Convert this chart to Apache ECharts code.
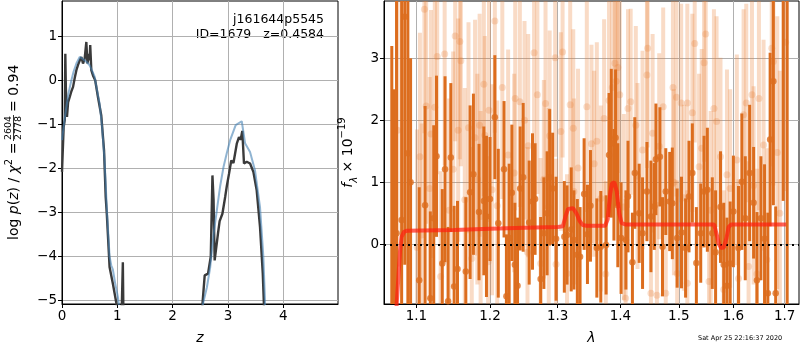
<!DOCTYPE html>
<html>
<head>
<meta charset="utf-8">
<script src="https://cdn.jsdelivr.net/npm/echarts@6/dist/echarts.min.js"></script>
<style>
html, body { margin: 0; padding: 0; background: #fff; }
#main { width: 800px; height: 350px; }
</style>
</head>
<body>
<div id="main"></div>
<script>
// left panel: log p(z), noisy (dark) and smoothed (blue)
var pzDark = [
    [0, -2.08], [0.03, -1.06], [0.05, -0.9], [0.06, 0.6], [0.07, -0.2], [0.09, -0.83], [0.11, -0.5],
    [0.14, -0.38], [0.17, -0.25], [0.2, -0.15], [0.23, 0.05], [0.26, 0.23], [0.29, 0.35], [0.32, 0.45],
    [0.35, 0.53], [0.38, 0.38], [0.41, 0.49], [0.43, 0.45], [0.44, 0.87], [0.46, 0.38], [0.48, 0.55],
    [0.49, 0.6], [0.5, 0.45], [0.51, 0.8], [0.53, 0.23], [0.56, 0.11], [0.6, 0], [0.65, -0.38],
    [0.71, -0.8], [0.76, -1.59], [0.79, -2.65], [0.81, -3.03], [0.86, -4.24], [0.92, -4.62],
    [0.98, -5.04], [1.02, -5.3], [1.06, -5.6], [1.08, -5.2], [1.1, -4.13], [1.11, -5.3], [1.12, -6],
    [2.5, -6], [2.54, -5.07], [2.58, -4.43], [2.64, -4.39], [2.69, -4.0], [2.72, -2.16], [2.74, -2.7],
    [2.76, -4.09], [2.82, -3.48], [2.85, -3.2], [2.9, -3.03], [2.95, -2.65], [2.98, -2.4], [3.02, -2.12],
    [3.06, -1.82], [3.1, -1.88], [3.16, -1.44], [3.2, -1.29], [3.23, -1.35], [3.26, -1.15], [3.29, -1.89],
    [3.34, -1.85], [3.4, -1.89], [3.46, -2.08], [3.52, -2.5], [3.58, -3.33], [3.63, -4.39], [3.65, -5.07],
    [3.67, -6]
];
var pzSmooth = [
    [0, -1.36], [0.04, -0.95], [0.08, -0.6], [0.12, -0.28], [0.17, 0], [0.21, 0.2], [0.26, 0.38],
    [0.32, 0.53], [0.38, 0.48], [0.44, 0.42], [0.5, 0.34], [0.55, 0.2], [0.59, 0.08], [0.63, -0.2],
    [0.68, -0.53], [0.72, -1.0], [0.77, -1.82], [0.81, -2.9], [0.86, -4.0], [0.89, -4.2], [0.92, -4.3],
    [0.96, -4.6], [1.01, -4.92], [1.04, -5.2], [1.08, -6.5],
    [2.5, -6.5], [2.55, -5.07], [2.62, -4.7], [2.68, -4.24], [2.74, -3.5], [2.8, -2.95], [2.86, -2.4],
    [2.92, -1.97], [2.98, -1.65], [3.04, -1.36], [3.14, -1.02], [3.25, -0.93], [3.31, -1.43],
    [3.4, -1.63], [3.49, -2.05], [3.58, -2.88], [3.64, -4.0], [3.67, -5.0], [3.69, -6.5]
];
var zTicks = [0, 1, 2, 3, 4];
var pzTicks = [-5, -4, -3, -2, -1, 0, 1];

// right panel: spectrum [lambda, flux, error]
var specDark = [
    [1.0685, -1.2, 4.4], [1.0715, -1.5, 4.0], [1.0745, 0.18, 4.5], [1.081, 0.39, 4.2], [1.085, 3.67, 4.0],
    [1.089, 1.47, 3.0], [1.0925, 1.0, 2.0], [1.1037, -0.58, 1.5], [1.1114, 0.63, 1.6], [1.1183, -0.87, 1.4],
    [1.1228, 0.42, 1.5], [1.1265, 1.42, 1.3], [1.1342, -0.31, 1.2], [1.1379, 1.21, 1.5], [1.142, -0.92, 1.2],
    [1.1457, 1.40, 1.2], [1.1502, -0.68, 1.3], [1.1548, -0.40, 1.1], [1.1662, -0.44, 1.2], [1.1721, 0.84, 1.4],
    [1.1767, 1.13, 1.3], [1.1845, 0.52, 1.1], [1.1913, 0.70, 1.2], [1.195, 0.45, 1.3], [1.2, 0.73, 1.0],
    [1.2069, 2.05, 1.0], [1.2118, 0.34, 1.2], [1.2201, 1.21, 1.1], [1.2235, -0.84, 1.0], [1.2275, 0.10, 1.2],
    [1.2314, 0.83, 1.1], [1.2358, -0.33, 1.0], [1.2397, -0.67, 1.1], [1.2436, 0.90, 1.0], [1.248, 1.08, 1.2],
    [1.2569, 0.35, 1.0], [1.2618, 0.69, 1.1], [1.2657, 0.73, 0.9], [1.274, -0.56, 1.0], [1.2789, 0.18, 0.9],
    [1.2838, 0.50, 1.0], [1.2877, 1.08, 1.1], [1.2922, 0.90, 0.9], [1.2975, 0.09, 1.0], [1.3102, 0.12, 0.9],
    [1.3144, 0.15, 0.8], [1.3209, 0.24, 1.0], [1.3251, 0.07, 0.8], [1.3305, -0.17, 0.9], [1.3348, -0.2, 0.8],
    [1.3412, 0.81, 0.9], [1.3465, 0.16, 0.8], [1.3513, 0.62, 0.9], [1.3615, -0.06, 0.8], [1.3679, -0.04, 0.9],
    [1.3765, -0.01, 0.8], [1.3813, 1.44, 1.0], [1.385, 1.63, 1.2], [1.3893, 0.96, 0.9], [1.392, 1.72, 1.1],
    [1.3957, 0.63, 1.0], [1.4011, 0.10, 0.9], [1.4091, 0.07, 0.8], [1.4126, 0.77, 0.9], [1.42, -0.29, 0.8],
    [1.424, 1.15, 0.9], [1.4314, 0.50, 0.8], [1.4371, 0.18, 0.9], [1.4446, 0.85, 0.8], [1.4514, 0.45, 0.9],
    [1.4571, 0.61, 0.7], [1.46, 1.37, 0.9], [1.4669, 1.41, 0.8], [1.4714, -0.04, 0.8], [1.4771, 0.85, 0.7],
    [1.484, 0.69, 0.8], [1.4886, 0.66, 0.9], [1.4971, 0.10, 0.8], [1.5048, 0.19, 0.9], [1.5121, -0.06, 0.8],
    [1.5182, 0.77, 0.9], [1.5242, 1.15, 0.8], [1.5315, -0.30, 0.9], [1.5394, 0.18, 0.8], [1.5455, 0.85, 0.9],
    [1.5515, 0.88, 1.0], [1.5606, 0.18, 0.9], [1.5667, -0.13, 1.0], [1.5758, 0.60, 0.9], [1.5818, -0.33, 1.0],
    [1.5879, -0.67, 1.1], [1.5939, -0.31, 1.0], [1.6, 0.53, 0.9], [1.6097, -0.06, 1.0], [1.6161, 1.01, 1.1],
    [1.6226, 0.42, 1.0], [1.631, 1.15, 1.1], [1.6387, 0.67, 0.9], [1.6452, -0.58, 1.1], [1.6529, 0.42, 1.0],
    [1.66, 0.09, 1.2], [1.6665, -0.79, 1.3], [1.671, 1.69, 1.4], [1.6774, 2.63, 2.0], [1.682, -0.79, 1.4],
    [1.697, 4.5, 3.8], [1.705, 4.8, 6.0]
];
var specLight = [
    [1.0758, 1.84, 2.2], [1.1009, -0.05, 1.9], [1.1046, 1.41, 2.0], [1.1068, 0.15, 1.8], [1.1105, 3.79, 2.0],
    [1.1128, 2.23, 1.9], [1.1174, 0.9, 1.8], [1.1192, 1.78, 2.0], [1.1242, 2.21, 1.8], [1.1274, 3.03, 1.9],
    [1.132, -0.52, 1.7], [1.1374, 3.07, 1.8], [1.1434, 0.55, 1.8], [1.1489, 1.21, 1.9], [1.1516, 3.36, 1.7],
    [1.1557, 1.84, 1.8], [1.158, 3.27, 1.9], [1.1594, 2.96, 1.7], [1.1648, 0.72, 1.8], [1.1699, 1.88, 1.7],
    [1.1744, -0.23, 1.8], [1.179, 1.72, 1.9], [1.1822, 1.05, 1.7], [1.1854, 1.92, 1.8], [1.1868, 0.45, 1.7],
    [1.1913, 2.58, 1.8], [1.1927, 1.76, 1.6], [1.1973, -0.28, 1.7], [1.1986, 2.16, 1.8], [1.2029, 0.88, 1.7],
    [1.2069, 3.60, 1.8], [1.2103, 0.62, 1.7], [1.2176, 2.53, 1.8], [1.226, 1.44, 1.7], [1.2348, 1.15, 1.6],
    [1.2363, 2.35, 1.8], [1.2431, 2.30, 1.7], [1.25, 2.0, 1.6], [1.2544, -0.13, 1.7], [1.2554, 1.59, 1.8],
    [1.2642, 3.09, 1.7], [1.2691, 2.41, 1.6], [1.274, -0.31, 1.7], [1.2789, 1.05, 1.6], [1.2814, 2.27, 1.7],
    [1.2863, 0.6, 1.6], [1.2877, 1.75, 1.7], [1.2961, 3.01, 1.6], [1.2975, -0.32, 1.7], [1.3048, 1.82, 1.6],
    [1.3075, 3.10, 1.7], [1.3144, -0.47, 1.6], [1.3193, 2.25, 1.7], [1.3241, 1.87, 1.6], [1.3251, 0.85, 1.5],
    [1.3316, 1.23, 1.6], [1.3455, 2.22, 1.7], [1.3529, 1.62, 1.6], [1.3572, 1.3, 1.5], [1.3615, 1.66, 1.6],
    [1.3679, 0.74, 1.5], [1.3733, 2.03, 1.6], [1.376, -0.48, 1.5], [1.3813, 2.32, 1.7], [1.3866, 2.53, 1.8],
    [1.3909, 2.92, 1.7], [1.393, 2.63, 1.8], [1.3957, 2.85, 1.7], [1.3989, 2.41, 1.6], [1.4057, 0.6, 1.5],
    [1.4086, -0.87, 1.6], [1.4126, 2.19, 1.6], [1.4171, 2.30, 1.5], [1.4257, 1.92, 1.6], [1.4286, 1.1, 1.5],
    [1.4371, 1.52, 1.6], [1.4446, 2.73, 1.5], [1.4457, 3.16, 1.6], [1.4514, -0.79, 1.5], [1.4543, 1.79, 1.6],
    [1.4617, -0.82, 1.5], [1.4657, 1.58, 1.5], [1.4726, 2.22, 1.6], [1.4771, -0.79, 1.5], [1.4897, 2.53, 1.6],
    [1.4914, 1.0, 1.5], [1.496, 2.37, 1.6], [1.4971, -0.47, 1.5], [1.5042, 2.28, 1.6], [1.509, 0.75, 1.5],
    [1.5152, 2.28, 1.6], [1.5152, -0.63, 1.5], [1.5242, 2.12, 1.6], [1.5285, 3.24, 1.6], [1.5364, 1.25, 1.5],
    [1.5412, 1.55, 1.6], [1.5455, 2.93, 1.6], [1.5485, 3.39, 1.7], [1.5545, -0.6, 1.5], [1.5576, 0.55, 1.6],
    [1.5636, 2.19, 1.6], [1.5685, 1.98, 1.7], [1.5758, 1.41, 1.6], [1.5818, -0.73, 1.6], [1.5879, 1.12, 1.7],
    [1.5939, 0.9, 1.6], [1.6065, 1.36, 1.7], [1.6097, -0.55, 1.6], [1.6194, 2.09, 1.7], [1.6245, 2.28, 1.6],
    [1.629, -0.36, 1.7], [1.6355, 2.41, 1.7], [1.6387, 0.95, 1.6], [1.6452, -0.48, 1.7], [1.649, 2.35, 1.8],
    [1.6581, 1.60, 1.7], [1.6645, -0.25, 1.8], [1.6742, 3.16, 1.9], [1.6774, 2.95, 2.0], [1.6852, 1.48, 2.2],
    [1.6903, 0.5, 2.3], [1.7019, 3.26, 2.4]
];
var model = [
    [1.0745, -1.0], [1.077, -0.5], [1.079, -0.1], [1.081, 0.12], [1.084, 0.2], [1.088, 0.22], [1.15, 0.23],
    [1.2, 0.25], [1.25, 0.265], [1.3, 0.28], [1.308, 0.29], [1.312, 0.45], [1.316, 0.57], [1.324, 0.58],
    [1.329, 0.5], [1.334, 0.38], [1.339, 0.31], [1.345, 0.3], [1.375, 0.3], [1.379, 0.4], [1.383, 0.8],
    [1.386, 0.98], [1.39, 1.0], [1.394, 0.85], [1.398, 0.5], [1.402, 0.34], [1.408, 0.32], [1.5, 0.32],
    [1.564, 0.32], [1.569, 0.15], [1.573, 0.0], [1.577, -0.06], [1.582, -0.05], [1.587, 0.1], [1.591, 0.28],
    [1.596, 0.32], [1.703, 0.32]
];
var lamTicks = [1.1, 1.2, 1.3, 1.4, 1.5, 1.6, 1.7];
var fluxTicks = [0, 1, 2, 3];

var FONT = 'DejaVu Sans';
var chart = echarts.init(document.getElementById('main'));

// vertical error bar, clipped to the grid
function barRenderer(width) {
    return function (params, api) {
        var x = api.value(0), y = api.value(1), e = api.value(2);
        var top = api.coord([x, y + e]);
        var bot = api.coord([x, y - e]);
        var cs = params.coordSys;
        var y1 = Math.max(top[1], cs.y);
        var y2 = Math.min(bot[1], cs.y + cs.height);
        if (y2 <= y1) return;
        return {
            type: 'line',
            shape: { x1: top[0], y1: y1, x2: top[0], y2: y2 },
            style: { stroke: api.visual('color'), lineWidth: width }
        };
    };
}

function axisCommon(ticks) {
    return {
        axisLine: { show: true, onZero: false, lineStyle: { color: '#000', width: 1 } },
        axisTick: { show: true, inside: false, length: 4, customValues: ticks, lineStyle: { color: '#000' } },
        axisLabel: { customValues: ticks, color: '#000', fontFamily: FONT, fontSize: 13.5, margin: 5,
            formatter: function (v) { return String(v).replace('-', '\u2212'); } },
        splitLine: { show: true, lineStyle: { color: '#b0b0b0', width: 1 } }
    };
}

var option = {
    animation: false,
    backgroundColor: '#fff',
    grid: [
        { left: 62, top: 1, width: 276, height: 303, show: true, borderColor: '#000', borderWidth: 1 },
        { left: 384, top: 1, width: 415, height: 303, show: true, borderColor: '#000', borderWidth: 1 }
    ],
    xAxis: [
        Object.assign({ type: 'value', gridIndex: 0, min: 0, max: 4.99,
            name: 'z', nameLocation: 'middle', nameGap: 27,
            nameTextStyle: { fontFamily: FONT, fontSize: 14, fontStyle: 'italic', color: '#000' } }, axisCommon(zTicks)),
        Object.assign({ type: 'log', logBase: 10, gridIndex: 1, min: 1.0587, max: 1.729,
            name: 'λ', nameLocation: 'middle', nameGap: 27,
            nameTextStyle: { fontFamily: FONT, fontSize: 14, fontStyle: 'italic', color: '#000' } }, axisCommon(lamTicks))
    ],
    yAxis: [
        Object.assign({ type: 'value', gridIndex: 0, min: -5.08, max: 1.8 }, axisCommon(pzTicks)),
        Object.assign({ type: 'value', gridIndex: 1, min: -0.963, max: 3.924,
            name: '{i|f}{s|λ}{n| × 10}{p|−19}', nameLocation: 'middle', nameGap: 20,
            nameTextStyle: {
                color: '#000', fontFamily: FONT, fontSize: 14,
                rich: {
                    i: { fontFamily: FONT, fontSize: 14, fontStyle: 'italic', lineHeight: 22, verticalAlign: 'middle' },
                    s: { fontFamily: FONT, fontSize: 10, fontStyle: 'italic', lineHeight: 22, verticalAlign: 'bottom' },
                    n: { fontFamily: FONT, fontSize: 14, lineHeight: 22, verticalAlign: 'middle' },
                    p: { fontFamily: FONT, fontSize: 10, lineHeight: 22, verticalAlign: 'top' }
                }
            } }, axisCommon(fluxTicks))
    ],
    graphic: [
        { type: 'text', right: 800 - 324, top: 13,
          style: { text: 'j161644p5545', fontFamily: FONT, fontSize: 12.5, fill: '#000' } },
        { type: 'text', right: 800 - 324, top: 28,
          style: { text: 'ID=1679   z=0.4584', fontFamily: FONT, fontSize: 12.5, fill: '#000' } },
        { type: 'text', left: 698, top: 335,
          style: { text: 'Sat Apr 25 22:16:37 2020', fontFamily: FONT, fontSize: 6.5, fill: '#000' } },
        {
            type: 'group', x: 14, y: 240, rotation: Math.PI / 2,
            children: [
                { type: 'text', x: 0, y: 0, style: {
                    text: '{n|log }{i|p}{n|(}{i|z}{n|) / }{i|χ}{p|2}{n| = }',
                    verticalAlign: 'middle', align: 'left', fill: '#000',
                    rich: {
                        n: { fontFamily: FONT, fontSize: 14, lineHeight: 20, verticalAlign: 'middle' },
                        i: { fontFamily: FONT, fontSize: 14, fontStyle: 'italic', lineHeight: 20, verticalAlign: 'middle' },
                        p: { fontFamily: FONT, fontSize: 10, lineHeight: 20, verticalAlign: 'top' }
                    } } },
                { type: 'text', x: 112, y: -5.5, style: { text: '2604', fontFamily: FONT, fontSize: 9.5,
                    align: 'center', verticalAlign: 'middle', fill: '#000' } },
                { type: 'line', shape: { x1: 99, y1: -0.5, x2: 125, y2: -0.5 }, style: { stroke: '#000', lineWidth: 0.8 } },
                { type: 'text', x: 112, y: 5, style: { text: '2778', fontFamily: FONT, fontSize: 9.5,
                    align: 'center', verticalAlign: 'middle', fill: '#000' } },
                { type: 'text', x: 128, y: 0, style: { text: '= 0.94', fontFamily: FONT, fontSize: 14,
                    align: 'left', verticalAlign: 'middle', fill: '#000' } }
            ]
        }
    ],
    series: [
        {
            type: 'line', xAxisIndex: 0, yAxisIndex: 0, data: pzDark, showSymbol: false, clip: true,
            lineStyle: { color: '#3a3a3a', width: 2.4 }, z: 3
        },
        {
            type: 'line', xAxisIndex: 0, yAxisIndex: 0, data: pzSmooth, showSymbol: false, clip: true,
            lineStyle: { color: 'rgba(70,130,180,0.6)', width: 2 }, z: 4
        },
        {
            type: 'custom', xAxisIndex: 1, yAxisIndex: 1, data: specLight, renderItem: barRenderer(4),
            itemStyle: { color: 'rgba(232,125,50,0.28)' }, encode: { x: 0, y: 1 }, z: 2
        },
        {
            type: 'scatter', xAxisIndex: 1, yAxisIndex: 1, data: specLight, symbolSize: 7,
            itemStyle: { color: 'rgba(232,125,50,0.3)' }, encode: { x: 0, y: 1 }, z: 2
        },
        {
            type: 'custom', xAxisIndex: 1, yAxisIndex: 1, data: specDark, renderItem: barRenderer(3),
            itemStyle: { color: '#dc6d1e' }, encode: { x: 0, y: 1 }, z: 3
        },
        {
            type: 'scatter', xAxisIndex: 1, yAxisIndex: 1, data: specDark, symbolSize: 6.5,
            itemStyle: { color: '#dc6d1e' }, encode: { x: 0, y: 1 }, z: 3
        },
        {
            type: 'line', xAxisIndex: 1, yAxisIndex: 1, data: model, showSymbol: false, clip: true,
            lineStyle: { color: 'rgba(255,30,15,0.7)', width: 4 }, z: 6,
            markLine: {
                silent: true, symbol: 'none', label: { show: false },
                lineStyle: { color: '#000', width: 2, type: [2, 4] },
                data: [{ yAxis: 0 }]
            }
        }
    ]
};
chart.setOption(option);
</script>
</body>
</html>
